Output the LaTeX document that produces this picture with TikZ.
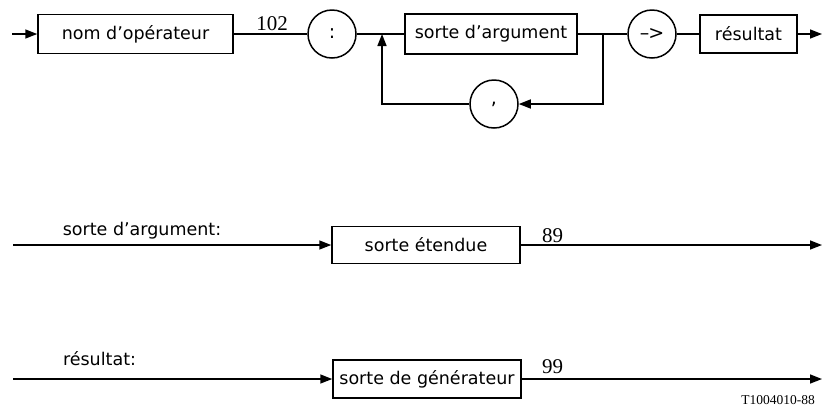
\documentclass[tikz,border=0pt]{standalone}
\usepackage{fontspec}
\setmainfont{DejaVu Sans}
\newfontfamily\numfont{Liberation Serif}
\usetikzlibrary{arrows.meta}
\tikzset{
  lw/.style={line width=1.5pt},
  box/.style={draw, lw, rectangle, inner sep=0pt, font=\fontsize{17.5}{20}\selectfont},
  circ/.style={draw, lw, circle, minimum size=48pt, inner sep=0pt, font=\fontsize{19}{22}\selectfont},
  arr/.style={-{Triangle[length=12pt,width=9pt]}},
  num/.style={anchor=base, inner sep=0pt, font=\numfont\fontsize{21}{23}\selectfont},
  lbl/.style={anchor=base, inner sep=0pt, font=\fontsize{17.5}{20}\selectfont},
}
\begin{document}
\begin{tikzpicture}[x=1pt,y=-1pt]
\useasboundingbox (0,0) rectangle (827,408);
% top row
\coordinate (s1) at (12,34);
\node[box, minimum width=195pt, minimum height=39pt] (b1) at (135.5,34) {nom d’opérateur};
\node[circ] (c1) at (332,34) {:};
\node[box, minimum width=172pt, minimum height=40pt] (b2) at (491,34) {sorte d’argument};
\node[circ] (c2) at (652,34) {–\kern-1pt>};
\node[box, minimum width=97pt, minimum height=38pt] (b3) at (748.5,34) {résultat};
\node[circ] (c3) at (494,104) {,};
\coordinate (j1) at (382,34);
\coordinate (j2) at (603,34);
\coordinate (k1) at (382,104);
\coordinate (k2) at (603,104);
\coordinate (e1) at (822,34);
\node[num] (n102) at (272,30) {102};

\draw[lw, arr] (s1) -- (b1.west);
\draw[lw] (b1.east) -- (c1.west);
\draw[lw] (c1.east) -- (b2.west);
\draw[lw] (b2.east) -- (c2.west);
\draw[lw] (c2.east) -- (b3.west);
\draw[lw, arr] (b3.east) -- (e1);
\draw[lw, arr] (j2) -- (k2) -- (c3.east);
\draw[lw, arr] (c3.west) -- (k1) -- (j1);

% middle row
\node[lbl] (l1) at (142,235) {sorte d’argument:};
\coordinate (s2) at (13,245);
\node[box, minimum width=188pt, minimum height=37pt] (b4) at (426,245) {sorte étendue};
\coordinate (e2) at (822,245);
\node[num] (n89) at (552.5,242) {89};
\draw[lw, arr] (s2) -- (b4.west);
\draw[lw, arr] (b4.east) -- (e2);

% bottom row
\node[lbl] (l2) at (99.5,365) {résultat:};
\coordinate (s3) at (13,379);
\node[box, minimum width=188pt, minimum height=38pt] (b5) at (427,379) {sorte de générateur};
\coordinate (e3) at (822,379);
\node[num] (n99) at (552.5,373) {99};
\draw[lw, arr] (s3) -- (b5.west);
\draw[lw, arr] (b5.east) -- (e3);

\node[inner sep=0pt, font=\numfont\fontsize{13.5}{15}\selectfont] (ref) at (778,400) {T1004010-88};
\end{tikzpicture}
\end{document}
